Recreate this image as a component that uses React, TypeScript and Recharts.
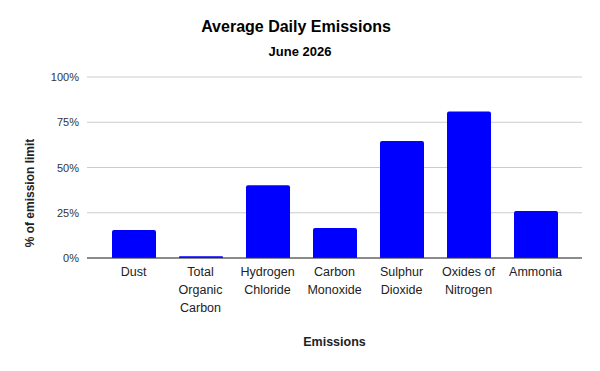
import React from "react";
import { BarChart, Bar, XAxis, YAxis, CartesianGrid } from "recharts";

// emission categories (line breaks as shown under the axis)
const categories = [
  "Dust",
  "Total\nOrganic\nCarbon",
  "Hydrogen\nChloride",
  "Carbon\nMonoxide",
  "Sulphur\nDioxide",
  "Oxides of\nNitrogen",
  "Ammonia",
];

// % of emission limit
const percentOfLimit = [15.5, 1, 40.2, 16.6, 64.6, 81, 26];

const yTicks = [0, 25, 50, 75, 100];

const data = categories.map((name, i) => ({ name, value: percentOfLimit[i] }));

const FONT = "'Liberation Sans', Arial, sans-serif";

const CategoryTick = (props: any) => {
  const { x, y, payload } = props;
  const lines = String(payload.value).split("\n");
  return (
    <g transform={`translate(${x},${y})`}>
      {lines.map((line, i) => (
        <text
          key={i}
          x={0}
          y={10 + i * 18}
          textAnchor="middle"
          fontSize={12.5}
          fontFamily={FONT}
          fill="#222"
        >
          {line}
        </text>
      ))}
    </g>
  );
};

const PercentTick = (props: any) => {
  const { x, y, payload } = props;
  return (
    <text
      x={x}
      y={y + 4}
      textAnchor="end"
      fontSize={11}
      fontFamily={FONT}
      fill="#333"
    >
      {`${payload.value}%`}
    </text>
  );
};

const App: React.FC = () => {
  return (
    <div
      style={{
        position: "fixed",
        left: 0,
        top: 0,
        width: 600,
        height: 371,
        background: "#fff",
        fontFamily: FONT,
      }}
    >
      <div
        style={{
          position: "absolute",
          left: 0,
          width: 592,
          top: 18,
          textAlign: "center",
          fontWeight: "bold",
          fontSize: 16,
          color: "#000",
        }}
      >
        Average Daily Emissions
      </div>
      <div
        style={{
          position: "absolute",
          left: 0,
          width: 600,
          top: 44,
          textAlign: "center",
          fontWeight: "bold",
          fontSize: 13,
          color: "#000",
        }}
      >
        June 2026
      </div>
      <div
        style={{
          position: "absolute",
          left: 30,
          top: 193,
          transform: "translate(-50%, -50%) rotate(-90deg)",
          whiteSpace: "nowrap",
          fontWeight: "bold",
          fontSize: 12,
          color: "#222",
        }}
      >
        % of emission limit
      </div>
      <div
        style={{
          position: "absolute",
          left: 87,
          width: 495,
          top: 335,
          textAlign: "center",
          fontWeight: "bold",
          fontSize: 12.5,
          color: "#222",
        }}
      >
        Emissions
      </div>
      <div style={{ position: "absolute", left: 0, top: 0 }}>
        <BarChart
          width={600}
          height={371}
          data={data}
          margin={{ top: 77, right: 18, bottom: 0, left: 0 }}
        >
          <CartesianGrid vertical={false} stroke="#cccccc" />
          <XAxis
            dataKey="name"
            interval={0}
            height={113}
            padding={{ left: 13, right: 13 }}
            tickLine={false}
            axisLine={{ stroke: "#333", strokeWidth: 1 }}
            tick={<CategoryTick />}
          />
          <YAxis
            width={87}
            domain={[0, 100]}
            ticks={yTicks}
            axisLine={false}
            tickLine={false}
            tickMargin={2}
            tick={<PercentTick />}
          />
          <Bar
            dataKey="value"
            fill="#0000ff"
            barSize={44}
            radius={[2, 2, 0, 0]}
            isAnimationActive={false}
          />
        </BarChart>
      </div>
    </div>
  );
};

export default App;
